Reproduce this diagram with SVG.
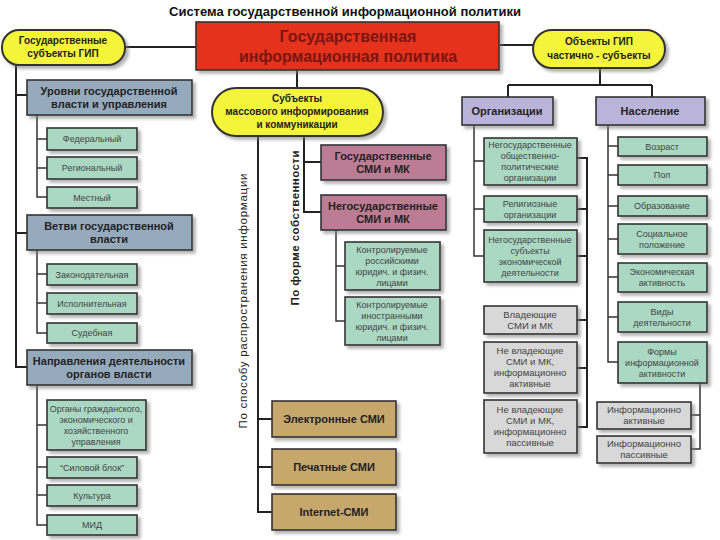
<svg xmlns="http://www.w3.org/2000/svg" width="720" height="540" viewBox="0 0 720 540">
<defs>
<filter id="sh" x="-10%" y="-10%" width="130%" height="140%">
<feDropShadow dx="3" dy="3" stdDeviation="1.5" flood-color="#777" flood-opacity="0.55"/>
</filter>
<style>
text{font-family:"Liberation Sans",Arial,sans-serif;text-anchor:middle}
.b{stroke:#333;stroke-width:1.6;filter:url(#sh)}
.pill{fill:#F4F43A;stroke:#333;stroke-width:2;filter:url(#sh)}
.red{fill:#E4321F}
.blue{fill:#95AABD}
.teal{fill:#AAD8C3}
.lav{fill:#BAB4DB}
.mauve{fill:#BC7B94}
.tan{fill:#C6A76C}
.grey{fill:#D8D8D8}
.h{font-size:11px;font-weight:bold;fill:#222}
.p{font-size:10px;font-weight:bold;fill:#222}
.s{font-size:9px;fill:#444}
.sg{font-size:9.5px;fill:#444}
.c{fill:none;stroke:#222;stroke-width:2}
.c2{fill:none;stroke:#333;stroke-width:1.5}
</style>
</defs>
<rect width="720" height="540" fill="#fff"/>
<text x="345" y="16" style="font-size:13px;font-weight:bold;fill:#111">Система государственной информационной политики</text>

<g id="connectors">
<path class="c" d="M125 47H196M499 45H533M297 70V88"/>
<path class="c" d="M600 68V85M508 85H652M508 85V97M652 85V97"/>
<path class="c" d="M16 65V367H27M16 95H27M16 233H27"/>
<path class="c2" d="M37 115V197H47M37 139H47M37 168H47"/>
<path class="c2" d="M37 250V333H47M37 274H47M37 303H47"/>
<path class="c2" d="M37 385V525H47M37 425H47M37 467H47M37 495H47"/>
<path class="c" d="M258 136V512H272M258 419H272M258 467H272"/>
<path class="c" d="M304 136V212H321M304 162H321"/>
<path class="c2" d="M336 230V321H345M336 266H345"/>
<path class="c2" d="M474 125V256H484M474 161H484M474 209H484"/>
<path class="c" d="M577 158H587V427H577M577 209H587M577 256H587M577 320H587M577 368H587"/>
<path class="c2" d="M608 125V362H618M608 146H618M608 175H618M608 206H618M608 239H618M608 277H618M608 317H618"/>
<path class="c2" d="M691 383H700V449H691M691 415H700"/>
</g>

<g id="gip"><rect class="b red" x="196" y="22" width="303" height="48"/>
<text x="348" y="42" style="font-size:16px;font-weight:bold;fill:#7A1612">Государственная</text>
<text x="348" y="62" style="font-size:16px;font-weight:bold;fill:#7A1612">информационная политика</text></g>

<g id="subj-gos"><rect class="pill" x="2" y="30" width="123" height="35" rx="17"/>
<text class="p" x="63" y="44">Государственные</text><text class="p" x="63" y="57">субъекты ГИП</text></g>

<g id="obj"><rect class="pill" x="533" y="30" width="132" height="38" rx="19"/>
<text class="p" x="599" y="45">Объекты ГИП</text><text class="p" x="599" y="59">частично - субъекты</text></g>

<g id="smi"><rect class="pill" x="212" y="88" width="171" height="48" rx="24"/>
<text class="p" x="297" y="102">Субъекты</text><text class="p" x="297" y="115">массового информирования</text><text class="p" x="297" y="128">и коммуникации</text></g>

<g id="urovni"><rect class="b blue" x="27" y="80" width="165" height="35"/>
<text class="h" x="109" y="95">Уровни государственной</text><text class="h" x="109" y="108">власти и управления</text></g>
<g id="fed"><rect class="b teal" x="47" y="128" width="90" height="22"/><text class="s" x="92" y="142">Федеральный</text></g>
<g id="reg"><rect class="b teal" x="47" y="157" width="90" height="22"/><text class="s" x="92" y="171">Региональный</text></g>
<g id="mest"><rect class="b teal" x="47" y="187" width="90" height="21"/><text class="s" x="92" y="200.5">Местный</text></g>

<g id="vetvi"><rect class="b blue" x="27" y="215" width="165" height="35"/>
<text class="h" x="109" y="230">Ветви государственной</text><text class="h" x="109" y="243">власти</text></g>
<g id="zak"><rect class="b teal" x="47" y="264" width="90" height="21"/><text class="s" x="92" y="277.5">Законодательная</text></g>
<g id="isp"><rect class="b teal" x="47" y="293" width="90" height="21"/><text class="s" x="92" y="306.5">Исполнительная</text></g>
<g id="sud"><rect class="b teal" x="47" y="323" width="90" height="20"/><text class="s" x="92" y="336">Судебная</text></g>

<g id="napr"><rect class="b blue" x="27" y="350" width="165" height="35"/>
<text class="h" x="109" y="365">Направления деятельности</text><text class="h" x="109" y="378">органов власти</text></g>
<g id="organy"><rect class="b teal" x="47" y="400" width="99" height="50"/>
<text class="s" x="96" y="411.5">Органы гражданского,</text><text class="s" x="96" y="422.5">экономического и</text><text class="s" x="96" y="433.5">хозяйственного</text><text class="s" x="96" y="444.5">управления</text></g>
<g id="silovoy"><rect class="b teal" x="47" y="457" width="90" height="21"/><text class="s" x="92" y="470.5">“Силовой блок”</text></g>
<g id="kult"><rect class="b teal" x="47" y="485" width="90" height="21"/><text class="s" x="92" y="498.5">Культура</text></g>
<g id="mid"><rect class="b teal" x="47" y="515" width="90" height="20"/><text class="s" x="92" y="528">МИД</text></g>

<text x="247" y="301" transform="rotate(-90 247 301)" textLength="255" style="font-size:11.5px;fill:#222">По способу распространения информации</text>
<text x="299" y="228" transform="rotate(-90 299 228)" textLength="155" style="font-size:11.5px;font-weight:bold;fill:#222">По форме собственности</text>

<g id="gos-smi"><rect class="b mauve" x="321" y="145" width="125" height="35"/>
<text class="h" x="383" y="160">Государственные</text><text class="h" x="383" y="173">СМИ и МК</text></g>
<g id="negos-smi"><rect class="b mauve" x="321" y="195" width="125" height="35"/>
<text class="h" x="383" y="210">Негосударственные</text><text class="h" x="383" y="223">СМИ и МК</text></g>
<g id="kontr-ros"><rect class="b teal" x="345" y="242" width="95" height="48"/>
<text class="s" x="392" y="252.5">Контролируемые</text><text class="s" x="392" y="263.5">российскими</text><text class="s" x="392" y="274.5">юридич. и физич.</text><text class="s" x="392" y="285.5">лицами</text></g>
<g id="kontr-in"><rect class="b teal" x="345" y="297" width="95" height="48"/>
<text class="s" x="392" y="307.5">Контролируемые</text><text class="s" x="392" y="318.5">иностранными</text><text class="s" x="392" y="329.5">юридич. и физич.</text><text class="s" x="392" y="340.5">лицами</text></g>

<g id="el"><rect class="b tan" x="272" y="401" width="124" height="36"/><text class="h" x="334" y="423">Электронные СМИ</text></g>
<g id="pech"><rect class="b tan" x="272" y="449" width="124" height="36"/><text class="h" x="334" y="471">Печатные СМИ</text></g>
<g id="inet"><rect class="b tan" x="272" y="494" width="124" height="36"/><text class="h" x="334" y="516">Internet-СМИ</text></g>

<g id="org"><rect class="b lav" x="462" y="97" width="91" height="28"/><text class="h" x="507" y="115">Организации</text></g>
<g id="nas"><rect class="b lav" x="596" y="97" width="109" height="28"/><text class="h" x="650" y="115">Население</text></g>

<g id="ob-pol"><rect class="b teal" x="484" y="138" width="93" height="47"/>
<text class="s" x="530" y="148">Негосударственные</text><text class="s" x="530" y="159">общественно-</text><text class="s" x="530" y="170">политические</text><text class="s" x="530" y="181">организации</text></g>
<g id="rel"><rect class="b teal" x="484" y="196" width="93" height="26"/>
<text class="s" x="530" y="206.5">Религиозные</text><text class="s" x="530" y="217.5">организации</text></g>
<g id="econ"><rect class="b teal" x="484" y="230" width="93" height="52"/>
<text class="s" x="530" y="242.5">Негосударственные</text><text class="s" x="530" y="253.5">субъекты</text><text class="s" x="530" y="264.5">экономической</text><text class="s" x="530" y="275.5">деятельности</text></g>

<g id="vlad"><rect class="b grey" x="484" y="306" width="93" height="28"/>
<text class="sg" x="530" y="317.5">Владеющие</text><text class="sg" x="530" y="328.5">СМИ и МК</text></g>
<g id="nevlad-a"><rect class="b grey" x="484" y="342" width="93" height="51"/>
<text class="sg" x="530" y="354">Не владеющие</text><text class="sg" x="530" y="365">СМИ и МК,</text><text class="sg" x="530" y="376">информационно</text><text class="sg" x="530" y="387">активные</text></g>
<g id="nevlad-p"><rect class="b grey" x="484" y="400" width="93" height="53"/>
<text class="sg" x="530" y="413">Не владеющие</text><text class="sg" x="530" y="424">СМИ и МК,</text><text class="sg" x="530" y="435">информационно</text><text class="sg" x="530" y="446">пассивные</text></g>

<g id="vozr"><rect class="b teal" x="618" y="137" width="89" height="19"/><text class="s" x="662" y="149.5">Возраст</text></g>
<g id="pol"><rect class="b teal" x="618" y="165" width="89" height="20"/><text class="s" x="662" y="178">Пол</text></g>
<g id="obr"><rect class="b teal" x="618" y="196" width="89" height="20"/><text class="s" x="662" y="209">Образование</text></g>
<g id="soc"><rect class="b teal" x="618" y="224" width="89" height="30"/><text class="s" x="662" y="236.5">Социальное</text><text class="s" x="662" y="247.5">положение</text></g>
<g id="eka"><rect class="b teal" x="618" y="263" width="89" height="29"/><text class="s" x="662" y="275">Экономическая</text><text class="s" x="662" y="286">активность</text></g>
<g id="vidy"><rect class="b teal" x="618" y="302" width="89" height="30"/><text class="s" x="662" y="314.5">Виды</text><text class="s" x="662" y="325.5">деятельности</text></g>
<g id="formy"><rect class="b teal" x="618" y="342" width="89" height="41"/><text class="s" x="662" y="354.5">Формы</text><text class="s" x="662" y="365.5">информационной</text><text class="s" x="662" y="376.5">активности</text></g>
<g id="inf-a"><rect class="b grey" x="597" y="402" width="94" height="27"/><text class="sg" x="644" y="413">Информационно</text><text class="sg" x="644" y="424">активные</text></g>
<g id="inf-p"><rect class="b grey" x="597" y="436" width="94" height="27"/><text class="sg" x="644" y="447">Информационно</text><text class="sg" x="644" y="458">пассивные</text></g>
</svg>
